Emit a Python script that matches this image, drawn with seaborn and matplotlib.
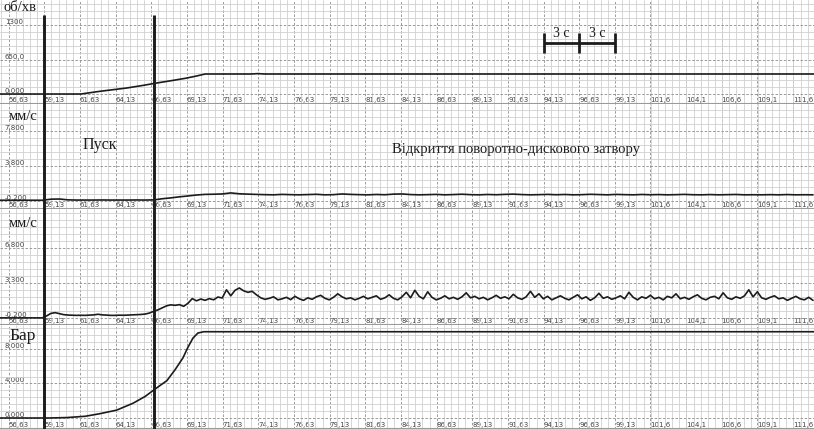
import numpy as np
import pandas as pd
import matplotlib
matplotlib.use("Agg")
import matplotlib.pyplot as plt
from matplotlib.ticker import FixedLocator
import seaborn as sns

# ---------------- data ----------------
x_ticks = [56.63, 59.13, 61.63, 64.13, 66.63, 69.13, 71.63, 74.13, 76.63, 79.13,
           81.63, 84.13, 86.63, 89.13, 91.63, 94.13, 96.63, 99.13, 101.6, 104.1,
           106.6, 109.1, 111.6]
x_labels = ["56,63", "59,13", "61,63", "64,13", "66,63", "69,13", "71,63", "74,13",
            "76,63", "79,13", "81,63", "84,13", "86,63", "89,13", "91,63", "94,13",
            "96,63", "99,13", "101,6", "104,1", "106,6", "109,1", "111,6"]

units = ["об/хв", "мм/с", "мм/с", "Бар"]
y_ticks = [[0, 650, 1300], [-0.2, 3.8, 7.8], [-0.2, 3.3, 6.8], [0, 4, 8]]
y_labels = [["0,000", "650,0", "1300"], ["-0,200", "3,800", "7,800"],
            ["-0,200", "3,300", "6,800"], ["0,000", "4,000", "8,000"]]

# panel 1: speed, rpm
t1 = [56.0, 61.7, 63.0, 64.9, 66.0, 67.0, 68.0, 69.0, 69.8, 70.4, 73.6, 74.1, 74.6, 113.2]
v1 = [0, 0, 50, 113, 160, 207, 250, 295, 339, 377, 377, 384, 377, 377]

# panel 2: vibration velocity, mm/s (sampled every 0.6 s from 56.0)
t2_start, t2_step = 56.0, 0.6
v2 = [-0.12, -0.12, -0.12, -0.12, -0.12, -0.12, 0.0, 0.02, -0.08, -0.1,
      -0.1, -0.1, -0.09, -0.1, -0.1, -0.1, -0.09, -0.1, -0.08, 0.05,
      0.15, 0.27, 0.37, 0.48, 0.55, 0.57, 0.6, 0.72, 0.62, 0.58,
      0.55, 0.52, 0.5, 0.55, 0.52, 0.5, 0.53, 0.56, 0.5, 0.52,
      0.6, 0.55, 0.52, 0.5, 0.54, 0.51, 0.58, 0.6, 0.53, 0.5,
      0.52, 0.55, 0.5, 0.53, 0.57, 0.52, 0.5, 0.54, 0.51, 0.55,
      0.58, 0.53, 0.5, 0.52, 0.55, 0.51, 0.54, 0.5, 0.52, 0.56,
      0.53, 0.5, 0.55, 0.52, 0.5, 0.54, 0.51, 0.53, 0.5, 0.52,
      0.55, 0.51, 0.5, 0.53, 0.5, 0.52, 0.54, 0.5, 0.51, 0.5,
      0.52, 0.5, 0.53, 0.5, 0.51, 0.5]

# panel 3: vibration velocity, mm/s (sampled every 0.3 s from 56.0)
t3_start, t3_step = 56.0, 0.3
v3 = [-0.2, -0.2, -0.2, -0.2, -0.2, -0.2, -0.2, -0.2, -0.2, -0.2, -0.2,
      0.0, 0.25, 0.32, 0.22, 0.12, 0.08, 0.06, 0.05, 0.06,
      0.05, 0.07, 0.1, 0.16, 0.1, 0.07, 0.05, 0.05, 0.07, 0.06,
      0.08, 0.1, 0.11, 0.14, 0.18, 0.28, 0.45, 0.6, 0.8, 1.0,
      1.1, 1.05, 1.12, 0.95, 1.25, 1.72, 1.5, 1.68, 1.55, 1.72,
      1.6, 1.88, 1.78, 2.6, 2.0, 2.55, 2.78, 2.5, 2.35, 2.45,
      2.1, 1.8, 1.65,
      1.75, 1.9, 1.6, 1.7, 1.85, 1.62, 1.95, 1.7, 1.55, 1.8,
      1.65, 1.9, 2.05, 1.75, 1.6, 1.85, 2.2, 1.9, 1.7, 1.8,
      1.6, 1.75, 1.95, 1.7, 1.85, 2.0, 1.65, 1.8, 2.1, 1.75,
      1.6, 1.9, 2.35, 1.8, 2.55, 1.95, 1.7, 2.4, 1.85, 1.6,
      1.75, 2.0, 1.7, 1.85, 1.65, 1.9, 2.3, 1.8, 1.95, 1.7,
      1.85, 1.6, 1.8, 2.05, 1.75, 1.9, 1.7, 2.15, 1.8, 1.65,
      1.9, 2.45, 1.85, 2.2, 1.7, 1.95, 1.6, 1.8, 2.0, 1.75,
      1.6, 1.85, 2.1, 1.7, 1.9, 1.55, 1.8, 2.25, 1.75, 1.9,
      1.65, 1.8, 2.0, 1.7, 2.35, 1.85, 1.6, 1.9, 1.75, 2.05,
      1.7, 1.85, 1.6, 1.95, 1.8, 2.2, 1.7, 1.85, 1.65, 1.9,
      2.1, 1.75, 1.6, 1.85, 1.95, 1.7, 2.3, 1.8, 1.65, 1.9,
      1.75, 2.0, 2.6, 1.9, 2.4, 1.8, 1.65, 1.85, 2.0, 1.7,
      1.8, 1.55, 1.75, 1.95, 1.7, 1.6, 1.85, 1.55]

# panel 4: pressure, bar
t4 = [56.0, 59.5, 60.7, 62.0, 63.0, 64.2, 65.35, 66.2, 66.96, 67.73, 68.3, 68.85,
      69.2, 69.55, 69.9, 70.3, 113.2]
v4 = [0, 0, 0.05, 0.2, 0.49, 0.91, 1.71, 2.5, 3.43, 4.34, 5.6, 6.97,
      8.2, 9.26, 9.85, 10.0, 10.0]

event_times = [59.13, 66.85]
scale_bar_t = [94.13, 96.63, 99.13]
scale_bar_label = "3 с"
text_start = "Пуск"
text_open = "Відкриття поворотно-дискового затвору"

t2 = t2_start + t2_step * np.arange(len(v2))
t3 = t3_start + t3_step * np.arange(len(v3))
series = [(np.array(t1), np.array(v1)), (t2, np.array(v2)),
          (t3, np.array(v3)), (np.array(t4), np.array(v4))]

# ---------------- layout ----------------
sns.set_style("white")
plt.rcParams["font.family"] = ["DejaVu Sans"]
SERIF = ["Liberation Serif", "DejaVu Serif"]

W, H = 814, 429
fig = plt.figure(figsize=(W / 100, H / 100), dpi=100)
XMIN, XMAX = 56.03, 113.07

# (top px, bottom px, ylim lo, ylim hi, minor step)
layout = [(0, 104, -188.0, 1771.0, 130.0),
          (104, 209, -1.127, 10.93, 0.8),
          (209, 325, -0.91, 10.655, 0.7),
          (325, 429, -1.275, 10.78, 0.8)]

axes = []
for i, (top, bot, lo, hi, mstep) in enumerate(layout):
    ax = fig.add_axes([0, 1 - bot / H, 1, (bot - top) / H])
    t, v = series[i]
    sns.lineplot(x=t, y=v, ax=ax, color="#1c1c1c", lw=1.2,
                 estimator=None, sort=False)
    ax.set_xlim(XMIN, XMAX)
    ax.set_ylim(lo, hi)
    ax.set_xticks(x_ticks, x_labels, fontsize=5, color="#444444")
    ax.set_yticks(y_ticks[i], y_labels[i], fontsize=5, color="#444444")
    ax.xaxis.set_minor_locator(FixedLocator(np.arange(56.13, XMAX, 0.5)))
    ax.yaxis.set_minor_locator(FixedLocator(np.arange(y_ticks[i][0], hi, mstep)))
    ax.grid(which="minor", color="#d0d0d0", lw=0.6, ls="-")
    ax.grid(which="major", color="#8c8c8c", lw=0.6, ls=(0, (3, 2)))
    ax.set_axisbelow(True)
    ax.tick_params(which="both", length=0)
    ax.tick_params(axis="x", pad=-1)
    ax.tick_params(axis="y", pad=-3.5)
    plt.setp(ax.get_xticklabels(), ha="left", va="bottom")
    plt.setp(ax.get_yticklabels(), ha="left", va="bottom")
    for s in ["top", "left", "right"]:
        ax.spines[s].set_visible(False)
    ax.spines["bottom"].set_color("#9a9a9a")
    ax.spines["bottom"].set_linewidth(1.5)
    ax.set_xlabel("")
    ax.set_ylabel("")
    axes.append(ax)

# scale bars in panel 1
ax1 = axes[0]
ax1.hlines(961, scale_bar_t[0], scale_bar_t[-1], color="#1c1c1c", lw=2.0)
ax1.vlines(scale_bar_t, 772, 1149, color="#1c1c1c", lw=2.0)
for a, b in zip(scale_bar_t[:-1], scale_bar_t[1:]):
    ax1.text((a + b) / 2, 1010, scale_bar_label, ha="center", va="bottom",
             fontsize=10, family=SERIF, color="#1c1c1c")

# overlay for the bold event lines spanning all panels
ov = fig.add_axes([0, 0, 1, 1])
ov.set_xlim(XMIN, XMAX)
ov.set_ylim(H, 0)
ov.axis("off")
ov.patch.set_alpha(0)
ov.vlines(event_times, 15, H, color="#1c1c1c", lw=2.1)

# unit labels and annotations
def ftext(x, y, s, size, **kw):
    fig.text(x / W, 1 - y / H, s, fontsize=size, family=SERIF, color="#1c1c1c", **kw)

ftext(3, 1, units[0], 10.5, va="top", ha="left")
ftext(9, 110, units[1], 10.5, va="top", ha="left")
ftext(9, 217, units[2], 10.5, va="top", ha="left")
ftext(9, 328, units[3], 12.5, va="top", ha="left")
ftext(83, 145, text_start, 11.5, va="center", ha="left")
ftext(392, 149, text_open, 10.5, va="center", ha="left")

fig.savefig("out.png", dpi=100)
